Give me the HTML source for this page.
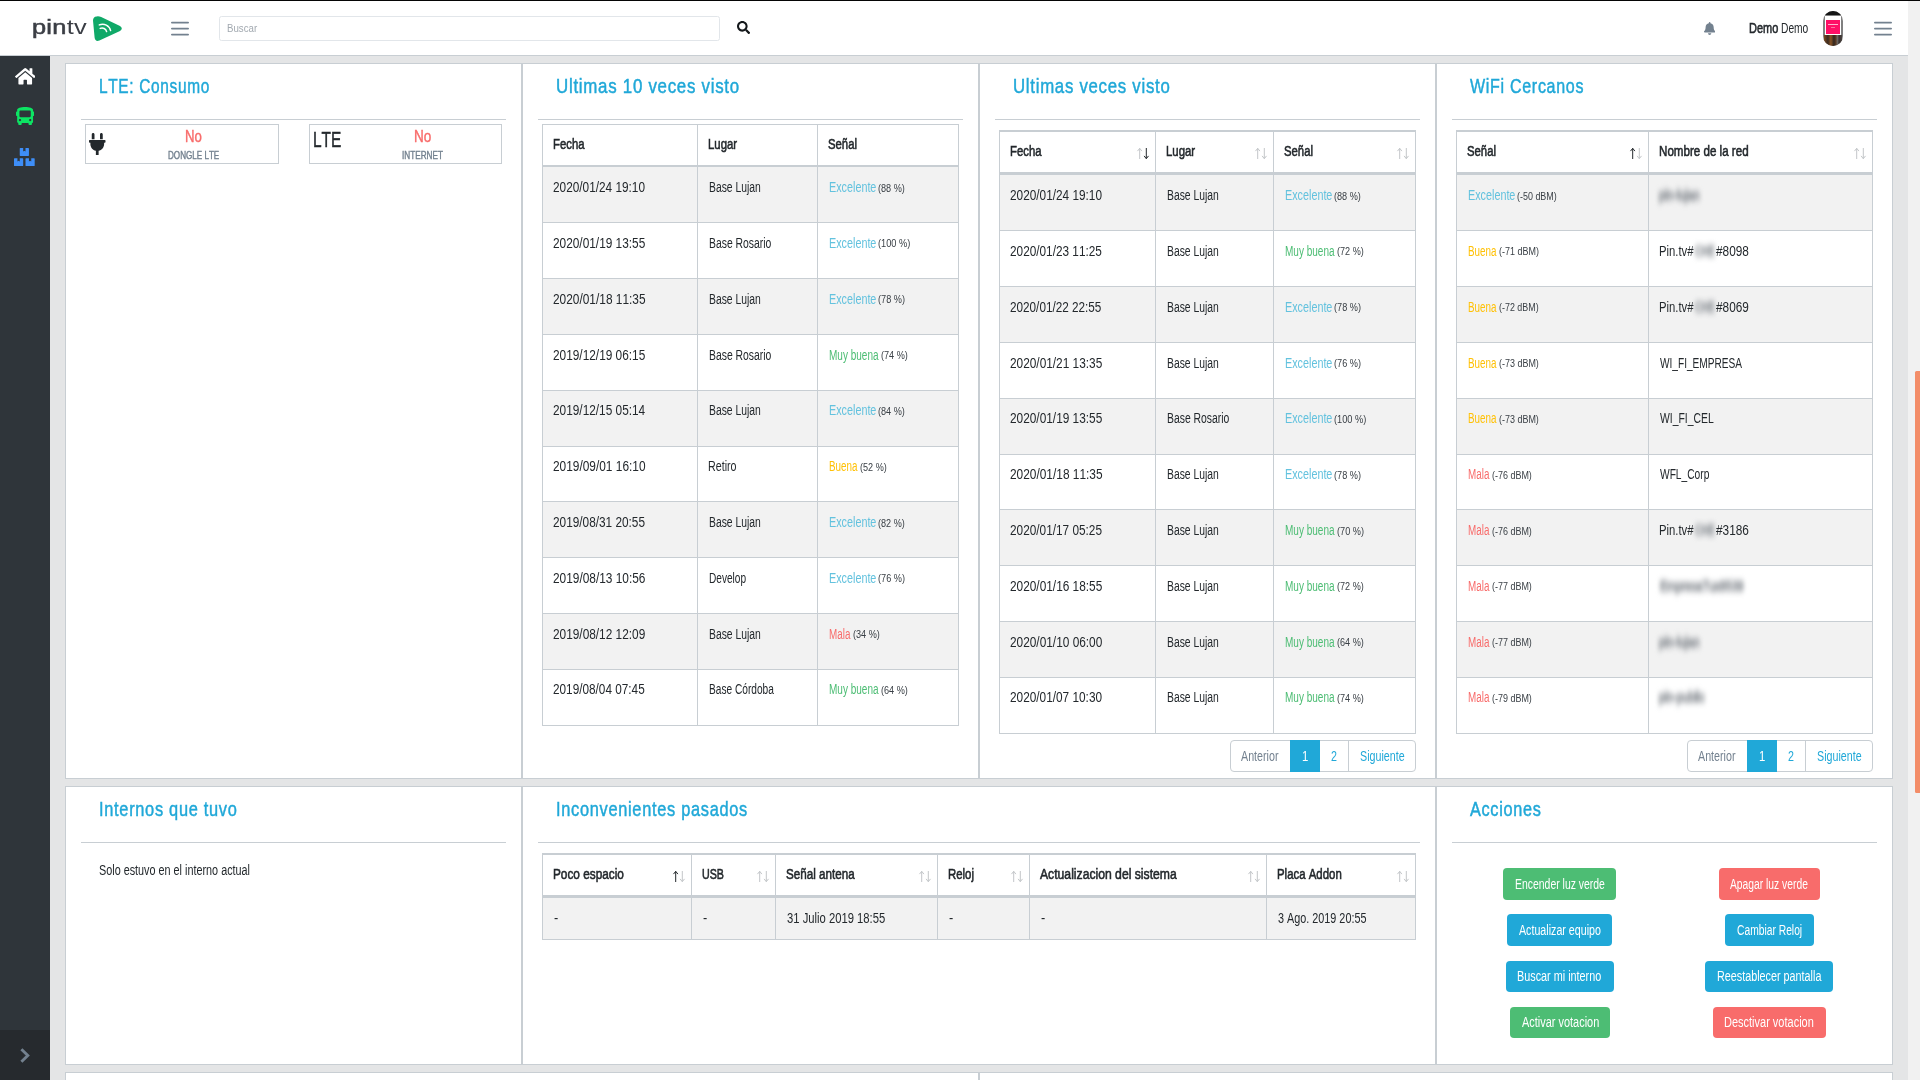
<!DOCTYPE html>
<html lang="es"><head><meta charset="utf-8"><title>pintv</title>
<style>
html,body{margin:0;padding:0}
body{width:1920px;height:1080px;overflow:hidden;background:#e4e5e6;position:relative;
font-family:"Liberation Sans",sans-serif;color:#23282c;font-kerning:none;-webkit-font-smoothing:antialiased}
.r{position:absolute;display:block}
.t{position:absolute;white-space:nowrap;transform-origin:0 0;font-weight:400;display:block}
.b{font-weight:700}
.fb{-webkit-text-stroke:.55px #23282c}
.h{color:#20a8d8;-webkit-text-stroke:.5px #20a8d8}
.ph{color:#a2a9b0}
.dg{color:#f86c6b}.ok{color:#4dbd74}.wa{color:#ffc107}.in{color:#63c2de}.mu{color:#73818f}.pr{color:#20a8d8}.wh{color:#fff}
.sm{color:#3a4046}
.s4{-webkit-text-stroke:.4px currentColor}
.bl{filter:blur(3px);color:#858a90;-webkit-text-stroke:1px #858a90}
.logo{font-size:20.4px;line-height:26px;color:#3b3e45;letter-spacing:.2px}
.logo b{font-weight:400;-webkit-text-stroke:.55px #3b3e45}
.av{border-radius:10px;overflow:hidden;background:#808080}
.av i{position:absolute;display:block}
.btn{border-radius:4px}
</style></head>
<body>
<div class="r" style="left:0px;top:0px;width:1920px;height:1px;background:#050505;"></div>
<div class="r" style="left:0px;top:1px;width:1908px;height:54px;background:#fff;"></div>
<div class="r" style="left:0px;top:55px;width:1908px;height:1px;background:#c8ced3;"></div>
<div class="r" style="left:1908px;top:1px;width:12px;height:1079px;background:#f1f1f1;"></div>
<div class="r" style="left:1915px;top:371px;width:5px;height:422px;background:#f38d68;border-radius:1.5px 0 0 1.5px"></div>
<div class="r" style="left:0px;top:56px;width:50px;height:1024px;background:#2f353a;"></div>
<div class="r" style="left:0px;top:1030px;width:50px;height:50px;background:#262a2e;"></div>
<svg class="r" style="left:19px;top:1047px" width="12" height="17" viewBox="0 0 12 17"><path d="M2.4 2.2l6.4 6.3-6.4 6.3" fill="none" stroke="#73818f" stroke-width="2.9" stroke-linejoin="miter"/></svg>
<span class="t logo" style="left:32px;top:14.2px;transform:scaleX(1.245)"><b>pin</b>tv</span>
<svg class="r" style="left:92px;top:15px" width="32" height="28" viewBox="92 15 32 28"><path fill="#0fa968" d="M96.6 16.4Q93 16.6 93 20.6L94.6 37.6Q95.2 42 99.4 40.6L120 30.9Q123.6 28.4 120 25.9L101.2 17Q98.8 16 96.6 16.4Z"/><path fill="none" stroke="#fff" stroke-width="1.5" stroke-linecap="round" d="M99.3 24.9A8.2 8.2 0 0 1 110.6 30.6M100.2 28.4A4.6 4.6 0 0 1 106.6 31.6"/></svg>
<svg class="r" style="left:170px;top:20.9px" width="20" height="16" viewBox="0 0 20 16"><path stroke="#73818f" stroke-width="1.8" stroke-linecap="round" fill="none" d="M1.9 1.6h16.2M1.9 7.6h16.2M1.9 13.6h16.2"/></svg>
<svg class="r" style="left:1873px;top:20.9px" width="20" height="16" viewBox="0 0 20 16"><path stroke="#73818f" stroke-width="1.8" stroke-linecap="round" fill="none" d="M1.9 1.6h16.2M1.9 7.6h16.2M1.9 13.6h16.2"/></svg>
<div class="r" style="left:219px;top:16px;width:501px;height:25px;border:1px solid #e2e6ea;border-radius:2.5px;background:#fff;box-sizing:border-box"></div>
<span class="t ph" style="left:226.91px;top:23px;font-size:11px;line-height:11px;transform:scaleX(0.8808);">Buscar</span>
<svg class="r" style="left:737px;top:20.9px" width="13.1" height="13.1" viewBox="0 0 512 512" preserveAspectRatio="none"><path fill="#14181b" d="M505 442.7L405.3 343c-4.5-4.5-10.6-7-17-7H372c27.6-35.3 44-79.7 44-128C416 93.1 322.9 0 208 0S0 93.1 0 208s93.1 208 208 208c48.3 0 92.7-16.4 128-44v16.3c0 6.4 2.5 12.5 7 17l99.7 99.7c9.4 9.4 24.6 9.4 33.9 0l28.3-28.3c9.4-9.4 9.4-24.6.1-34zM208 336c-70.7 0-128-57.2-128-128 0-70.7 57.2-128 128-128 70.7 0 128 57.2 128 128 0 70.7-57.2 128-128 128z"/></svg>
<svg class="r" style="left:1703.8px;top:21.9px" width="11.29" height="12.9" viewBox="0 0 448 512" preserveAspectRatio="none"><path fill="#73818f" d="M224 512c35.32 0 63.97-28.65 63.97-64H160.03c0 35.35 28.65 64 63.97 64zm215.39-149.71c-19.32-20.76-55.47-51.99-55.47-154.29 0-77.7-54.48-139.9-127.94-155.16V32c0-17.67-14.32-32-31.98-32s-31.98 14.33-31.98 32v20.84C118.56 68.1 64.08 130.3 64.08 208c0 102.3-36.15 133.53-55.47 154.29-6 6.45-8.66 14.16-8.61 21.71.11 16.4 12.98 32 32.1 32h383.8c19.12 0 32-15.6 32.1-32 .05-7.55-2.61-15.27-8.61-21.71z"/></svg>
<span class="t fb" style="left:1748.5px;top:21px;font-size:14px;line-height:14px;transform:scaleX(0.7835);">Demo</span>
<span class="t" style="left:1780.66px;top:21px;font-size:14px;line-height:14px;transform:scaleX(0.7302);">Demo</span>
<div class="r av" style="left:1823px;top:10.6px;width:20px;height:35.6px"><i style="left:0;top:0;width:20px;height:4.2px;background:#161616"></i><i style="left:1.9px;top:5.4px;width:16.2px;height:19.4px;background:#fff"></i><i style="left:3px;top:9px;width:14px;height:14px;background:#ff0f66"></i><i style="left:5.2px;top:13.4px;width:9.4px;height:1.3px;background:#ffb3cd"></i><i style="left:7.5px;top:16.2px;width:4.5px;height:1px;background:#ff6f9f"></i><i style="left:1.2px;top:24.8px;width:17.6px;height:11px;background:linear-gradient(90deg,#7a4a22 0,#3a2a20 22%,#8a5424 38%,#30261f 55%,#5b3a22 66%,#6e6a66 74%,#3a3230 84%,#4a4440 100%)"></i></div>
<svg class="r" style="left:14.8px;top:66.6px" width="20.5" height="18.6" viewBox="0 0 576 512" preserveAspectRatio="none"><path fill="#fff" d="M280.37 148.26L96 300.11V464a16 16 0 0 0 16 16l112.06-.29a16 16 0 0 0 15.92-16V368a16 16 0 0 1 16-16h64a16 16 0 0 1 16 16v95.64a16 16 0 0 0 16 16.05L464 480a16 16 0 0 0 16-16V300L295.67 148.26a12.19 12.19 0 0 0-15.3 0zM571.6 251.47L488 182.56V44.05a12 12 0 0 0-12-12h-56a12 12 0 0 0-12 12v72.61L318.47 43a48 48 0 0 0-61 0L4.34 251.47a12 12 0 0 0-1.6 16.9l25.5 31A12 12 0 0 0 45.15 301l235.22-193.74a12.19 12.19 0 0 1 15.3 0L530.9 301a12 12 0 0 0 16.9-1.6l25.5-31a12 12 0 0 0-1.7-16.93z"/></svg>
<svg class="r" style="left:15.9px;top:107px" width="18.2" height="18.2" viewBox="0 0 512 512" preserveAspectRatio="none"><path fill="#0de463" d="M488 128h-8V80c0-44.8-99.2-80-224-80S32 35.2 32 80v48h-8c-13.25 0-24 10.74-24 24v80c0 13.25 10.75 24 24 24h8v160c0 17.67 14.33 32 32 32v32c0 17.67 14.33 32 32 32h32c17.67 0 32-14.33 32-32v-32h192v32c0 17.67 14.33 32 32 32h32c17.67 0 32-14.33 32-32v-32h6.4c16 0 25.6-12.8 25.6-25.6V256h8c13.25 0 24-10.75 24-24v-80c0-13.26-10.75-24-24-24zM112 400c-17.67 0-32-14.33-32-32s14.33-32 32-32 32 14.33 32 32-14.33 32-32 32zm16-112c-17.67 0-32-14.33-32-32V128c0-17.67 14.33-32 32-32h256c17.67 0 32 14.33 32 32v128c0 17.67-14.33 32-32 32H128zm272 112c-17.67 0-32-14.33-32-32s14.33-32 32-32 32 14.33 32 32-14.33 32-32 32z"/></svg>
<svg class="r" style="left:14.4px;top:148px" width="20.7" height="18" viewBox="0 0 576 512" preserveAspectRatio="none"><path fill="#3e8ef7" d="M560 288h-80v96l-32-21.3-32 21.3v-96h-80c-8.8 0-16 7.2-16 16v192c0 8.8 7.2 16 16 16h224c8.8 0 16-7.2 16-16V304c0-8.8-7.2-16-16-16zm-384-64h224c8.8 0 16-7.2 16-16V16c0-8.8-7.2-16-16-16h-80v96l-32-21.3L256 96V0h-80c-8.8 0-16 7.2-16 16v192c0 8.8 7.2 16 16 16zm64 64h-80v96l-32-21.3L96 384v-96H16c-8.8 0-16 7.2-16 16v192c0 8.8 7.2 16 16 16h224c8.8 0 16-7.2 16-16V304c0-8.8-7.2-16-16-16z"/></svg>
<div class="r" style="left:65px;top:63px;width:457px;height:716px;background:#fff;border:1px solid #c8ced3;box-sizing:border-box"></div>
<div class="r" style="left:522px;top:63px;width:457px;height:716px;background:#fff;border:1px solid #c8ced3;box-sizing:border-box"></div>
<div class="r" style="left:979px;top:63px;width:457px;height:716px;background:#fff;border:1px solid #c8ced3;box-sizing:border-box"></div>
<div class="r" style="left:1436px;top:63px;width:457px;height:716px;background:#fff;border:1px solid #c8ced3;box-sizing:border-box"></div>
<div class="r" style="left:65px;top:786px;width:457px;height:279px;background:#fff;border:1px solid #c8ced3;box-sizing:border-box"></div>
<div class="r" style="left:522px;top:786px;width:914px;height:279px;background:#fff;border:1px solid #c8ced3;box-sizing:border-box"></div>
<div class="r" style="left:1436px;top:786px;width:457px;height:279px;background:#fff;border:1px solid #c8ced3;box-sizing:border-box"></div>
<div class="r" style="left:65px;top:1072px;width:914px;height:30px;background:#fff;border:1px solid #c8ced3;box-sizing:border-box"></div>
<div class="r" style="left:979px;top:1072px;width:914px;height:30px;background:#fff;border:1px solid #c8ced3;box-sizing:border-box"></div>
<span class="t h" style="left:99.1px;top:75px;font-size:21px;line-height:21px;transform:scaleX(0.7351);letter-spacing:0.9px;">LTE: Consumo</span>
<div class="r" style="left:81px;top:119px;width:425px;height:1px;background:#c8ced3;"></div>
<span class="t h" style="left:556.06px;top:75px;font-size:21px;line-height:21px;transform:scaleX(0.804);letter-spacing:0.9px;">Ultimas 10 veces visto</span>
<div class="r" style="left:538px;top:119px;width:425px;height:1px;background:#c8ced3;"></div>
<span class="t h" style="left:1013.07px;top:75px;font-size:21px;line-height:21px;transform:scaleX(0.8);letter-spacing:0.9px;">Ultimas veces visto</span>
<div class="r" style="left:995px;top:119px;width:425px;height:1px;background:#c8ced3;"></div>
<span class="t h" style="left:1470.25px;top:75px;font-size:21px;line-height:21px;transform:scaleX(0.7641);letter-spacing:0.9px;">WiFi Cercanos</span>
<div class="r" style="left:1452px;top:119px;width:425px;height:1px;background:#c8ced3;"></div>
<span class="t h" style="left:99.07px;top:798px;font-size:21px;line-height:21px;transform:scaleX(0.7804);letter-spacing:0.9px;">Internos que tuvo</span>
<div class="r" style="left:81px;top:842px;width:425px;height:1px;background:#c8ced3;"></div>
<span class="t h" style="left:556.07px;top:798px;font-size:21px;line-height:21px;transform:scaleX(0.7792);letter-spacing:0.9px;">Inconvenientes pasados</span>
<div class="r" style="left:538px;top:842px;width:882px;height:1px;background:#c8ced3;"></div>
<span class="t h" style="left:1470.07px;top:798px;font-size:21px;line-height:21px;transform:scaleX(0.7737);letter-spacing:0.9px;">Acciones</span>
<div class="r" style="left:1452px;top:842px;width:425px;height:1px;background:#c8ced3;"></div>
<div class="r" style="left:85px;top:124px;width:194px;height:40px;border:1px solid #c8ced3;box-sizing:border-box"></div>
<div class="r" style="left:309px;top:124px;width:193px;height:40px;border:1px solid #c8ced3;box-sizing:border-box"></div>
<svg class="r" style="left:89.1px;top:133px" width="16.5" height="22" viewBox="0 0 384 512" preserveAspectRatio="none"><path fill="#23282c" d="M256 144V32c0-17.673 14.327-32 32-32s32 14.327 32 32v112h-64zm112 16H16c-8.837 0-16 7.163-16 16v32c0 8.837 7.163 16 16 16h16v32c0 77.406 54.969 141.971 128 156.796V512h64v-99.204c73.031-14.825 128-79.39 128-156.796v-32h16c8.837 0 16-7.163 16-16v-32c0-8.837-7.163-16-16-16zm-240-16V32c0-17.673-14.327-32-32-32S64 14.327 64 32v112h64z"/></svg>
<span class="t dg s4" style="left:184.72px;top:129px;font-size:16px;line-height:16px;transform:scaleX(0.823);">No</span>
<span class="t mu s4" style="left:167.64px;top:150px;font-size:10.5px;line-height:10px;transform:scaleX(0.7699);">DONGLE LTE</span>
<span class="t s4" style="left:312.83px;top:129px;font-size:21.5px;line-height:22px;transform:scaleX(0.7185);">LTE</span>
<span class="t dg s4" style="left:414.09px;top:129px;font-size:16px;line-height:16px;transform:scaleX(0.8447);">No</span>
<span class="t mu s4" style="left:402.24px;top:150px;font-size:10.5px;line-height:10px;transform:scaleX(0.7799);">INTERNET</span>
<span class="t" style="left:99.01px;top:863px;font-size:14px;line-height:14px;transform:scaleX(0.773);">Solo estuvo en el interno actual</span>
<div class="r" style="left:542px;top:167px;width:417px;height:55px;background:#f2f2f2;"></div>
<div class="r" style="left:542px;top:278px;width:417px;height:56px;background:#f2f2f2;"></div>
<div class="r" style="left:542px;top:390px;width:417px;height:56px;background:#f2f2f2;"></div>
<div class="r" style="left:542px;top:501px;width:417px;height:56px;background:#f2f2f2;"></div>
<div class="r" style="left:542px;top:613px;width:417px;height:56px;background:#f2f2f2;"></div>
<div class="r" style="left:542px;top:124px;width:417px;height:1px;background:#c8ced3;"></div>
<div class="r" style="left:542px;top:165px;width:417px;height:2px;background:#c8ced3;"></div>
<div class="r" style="left:542px;top:222px;width:417px;height:1px;background:#c8ced3;"></div>
<div class="r" style="left:542px;top:278px;width:417px;height:1px;background:#c8ced3;"></div>
<div class="r" style="left:542px;top:334px;width:417px;height:1px;background:#c8ced3;"></div>
<div class="r" style="left:542px;top:390px;width:417px;height:1px;background:#c8ced3;"></div>
<div class="r" style="left:542px;top:446px;width:417px;height:1px;background:#c8ced3;"></div>
<div class="r" style="left:542px;top:501px;width:417px;height:1px;background:#c8ced3;"></div>
<div class="r" style="left:542px;top:557px;width:417px;height:1px;background:#c8ced3;"></div>
<div class="r" style="left:542px;top:613px;width:417px;height:1px;background:#c8ced3;"></div>
<div class="r" style="left:542px;top:669px;width:417px;height:1px;background:#c8ced3;"></div>
<div class="r" style="left:542px;top:725px;width:417px;height:1px;background:#c8ced3;"></div>
<div class="r" style="left:542px;top:124px;width:1px;height:602px;background:#c8ced3;"></div>
<div class="r" style="left:697px;top:124px;width:1px;height:602px;background:#c8ced3;"></div>
<div class="r" style="left:817px;top:124px;width:1px;height:602px;background:#c8ced3;"></div>
<div class="r" style="left:958px;top:124px;width:1px;height:602px;background:#c8ced3;"></div>
<span class="t fb" style="left:553.19px;top:137px;font-size:14px;line-height:14px;transform:scaleX(0.8115);">Fecha</span>
<span class="t fb" style="left:708.04px;top:137px;font-size:14px;line-height:14px;transform:scaleX(0.8121);">Lugar</span>
<span class="t fb" style="left:828.33px;top:137px;font-size:14px;line-height:14px;transform:scaleX(0.809);">Señal</span>
<span class="t" style="left:553.27px;top:180px;font-size:14px;line-height:14px;transform:scaleX(0.844);">2020/01/24 19:10</span>
<span class="t" style="left:708.57px;top:180px;font-size:14px;line-height:14px;transform:scaleX(0.74);">Base Lujan</span>
<span class="t in" style="left:828.54px;top:180px;font-size:14px;line-height:14px;transform:scaleX(0.7705);">Excelente</span>
<span class="t sm" style="left:878.37px;top:183px;font-size:11.2px;line-height:11px;transform:scaleX(0.8152);">(88 %)</span>
<span class="t" style="left:553.26px;top:236px;font-size:14px;line-height:14px;transform:scaleX(0.8467);">2020/01/19 13:55</span>
<span class="t" style="left:708.57px;top:236px;font-size:14px;line-height:14px;transform:scaleX(0.7421);">Base Rosario</span>
<span class="t in" style="left:828.54px;top:236px;font-size:14px;line-height:14px;transform:scaleX(0.7705);">Excelente</span>
<span class="t sm" style="left:878.36px;top:238px;font-size:11.2px;line-height:11px;transform:scaleX(0.8267);">(100 %)</span>
<span class="t" style="left:553.26px;top:292px;font-size:14px;line-height:14px;transform:scaleX(0.849);">2020/01/18 11:35</span>
<span class="t" style="left:708.57px;top:292px;font-size:14px;line-height:14px;transform:scaleX(0.74);">Base Lujan</span>
<span class="t in" style="left:828.54px;top:292px;font-size:14px;line-height:14px;transform:scaleX(0.7705);">Excelente</span>
<span class="t sm" style="left:878.36px;top:294px;font-size:11.2px;line-height:11px;transform:scaleX(0.8185);">(78 %)</span>
<span class="t" style="left:553.26px;top:348px;font-size:14px;line-height:14px;transform:scaleX(0.8466);">2019/12/19 06:15</span>
<span class="t" style="left:708.57px;top:348px;font-size:14px;line-height:14px;transform:scaleX(0.7421);">Base Rosario</span>
<span class="t ok" style="left:828.6px;top:348px;font-size:14px;line-height:14px;transform:scaleX(0.7159);">Muy buena</span>
<span class="t sm" style="left:881.12px;top:350px;font-size:11.2px;line-height:11px;transform:scaleX(0.8151);">(74 %)</span>
<span class="t" style="left:553.26px;top:403px;font-size:14px;line-height:14px;transform:scaleX(0.846);">2019/12/15 05:14</span>
<span class="t" style="left:708.57px;top:403px;font-size:14px;line-height:14px;transform:scaleX(0.74);">Base Lujan</span>
<span class="t in" style="left:828.54px;top:403px;font-size:14px;line-height:14px;transform:scaleX(0.7705);">Excelente</span>
<span class="t sm" style="left:878.37px;top:406px;font-size:11.2px;line-height:11px;transform:scaleX(0.8151);">(84 %)</span>
<span class="t" style="left:553.26px;top:459px;font-size:14px;line-height:14px;transform:scaleX(0.8487);">2019/09/01 16:10</span>
<span class="t" style="left:708.4px;top:459px;font-size:14px;line-height:14px;transform:scaleX(0.7641);">Retiro</span>
<span class="t wa" style="left:828.61px;top:459px;font-size:14px;line-height:14px;transform:scaleX(0.7029);">Buena</span>
<span class="t sm" style="left:860.01px;top:462px;font-size:11.2px;line-height:11px;transform:scaleX(0.8119);">(52 %)</span>
<span class="t" style="left:553.27px;top:515px;font-size:14px;line-height:14px;transform:scaleX(0.8441);">2019/08/31 20:55</span>
<span class="t" style="left:708.57px;top:515px;font-size:14px;line-height:14px;transform:scaleX(0.74);">Base Lujan</span>
<span class="t in" style="left:828.54px;top:515px;font-size:14px;line-height:14px;transform:scaleX(0.7705);">Excelente</span>
<span class="t sm" style="left:878.37px;top:518px;font-size:11.2px;line-height:11px;transform:scaleX(0.8119);">(82 %)</span>
<span class="t" style="left:553.26px;top:571px;font-size:14px;line-height:14px;transform:scaleX(0.8483);">2019/08/13 10:56</span>
<span class="t" style="left:708.59px;top:571px;font-size:14px;line-height:14px;transform:scaleX(0.722);">Develop</span>
<span class="t in" style="left:828.54px;top:571px;font-size:14px;line-height:14px;transform:scaleX(0.7705);">Excelente</span>
<span class="t sm" style="left:878.36px;top:573px;font-size:11.2px;line-height:11px;transform:scaleX(0.8185);">(76 %)</span>
<span class="t" style="left:553.26px;top:627px;font-size:14px;line-height:14px;transform:scaleX(0.8463);">2019/08/12 12:09</span>
<span class="t" style="left:708.57px;top:627px;font-size:14px;line-height:14px;transform:scaleX(0.74);">Base Lujan</span>
<span class="t dg" style="left:828.61px;top:627px;font-size:14px;line-height:14px;transform:scaleX(0.7041);">Mala</span>
<span class="t sm" style="left:852.91px;top:629px;font-size:11.2px;line-height:11px;transform:scaleX(0.8151);">(34 %)</span>
<span class="t" style="left:553.27px;top:682px;font-size:14px;line-height:14px;transform:scaleX(0.8413);">2019/08/04 07:45</span>
<span class="t" style="left:708.59px;top:682px;font-size:14px;line-height:14px;transform:scaleX(0.7245);">Base Córdoba</span>
<span class="t ok" style="left:828.6px;top:682px;font-size:14px;line-height:14px;transform:scaleX(0.7159);">Muy buena</span>
<span class="t sm" style="left:881.12px;top:685px;font-size:11.2px;line-height:11px;transform:scaleX(0.8151);">(64 %)</span>
<div class="r" style="left:999px;top:175px;width:417px;height:55px;background:#f2f2f2;"></div>
<div class="r" style="left:999px;top:286px;width:417px;height:56px;background:#f2f2f2;"></div>
<div class="r" style="left:999px;top:398px;width:417px;height:56px;background:#f2f2f2;"></div>
<div class="r" style="left:999px;top:509px;width:417px;height:56px;background:#f2f2f2;"></div>
<div class="r" style="left:999px;top:621px;width:417px;height:56px;background:#f2f2f2;"></div>
<div class="r" style="left:999px;top:130px;width:417px;height:2px;background:#c8ced3;"></div>
<div class="r" style="left:999px;top:172px;width:417px;height:3px;background:#c8ced3;"></div>
<div class="r" style="left:999px;top:230px;width:417px;height:1px;background:#c8ced3;"></div>
<div class="r" style="left:999px;top:286px;width:417px;height:1px;background:#c8ced3;"></div>
<div class="r" style="left:999px;top:342px;width:417px;height:1px;background:#c8ced3;"></div>
<div class="r" style="left:999px;top:398px;width:417px;height:1px;background:#c8ced3;"></div>
<div class="r" style="left:999px;top:454px;width:417px;height:1px;background:#c8ced3;"></div>
<div class="r" style="left:999px;top:509px;width:417px;height:1px;background:#c8ced3;"></div>
<div class="r" style="left:999px;top:565px;width:417px;height:1px;background:#c8ced3;"></div>
<div class="r" style="left:999px;top:621px;width:417px;height:1px;background:#c8ced3;"></div>
<div class="r" style="left:999px;top:677px;width:417px;height:1px;background:#c8ced3;"></div>
<div class="r" style="left:999px;top:733px;width:417px;height:1px;background:#c8ced3;"></div>
<div class="r" style="left:999px;top:130px;width:1px;height:604px;background:#c8ced3;"></div>
<div class="r" style="left:1155px;top:130px;width:1px;height:604px;background:#c8ced3;"></div>
<div class="r" style="left:1273px;top:130px;width:1px;height:604px;background:#c8ced3;"></div>
<div class="r" style="left:1415px;top:130px;width:1px;height:604px;background:#c8ced3;"></div>
<span class="t fb" style="left:1010.19px;top:144px;font-size:14px;line-height:14px;transform:scaleX(0.8115);">Fecha</span>
<span class="t fb" style="left:1166.04px;top:144px;font-size:14px;line-height:14px;transform:scaleX(0.8121);">Lugar</span>
<span class="t fb" style="left:1284.33px;top:144px;font-size:14px;line-height:14px;transform:scaleX(0.809);">Señal</span>
<svg class="r" style="left:1136px;top:147px" width="14" height="13" viewBox="0 0 14 13"><path fill="none" stroke="#c3c6c9" stroke-width="1" d="M3.7 12V1.4M1.5 4.1L3.7 1.3L5.9 4.1"/><path fill="none" stroke="#23282c" stroke-width="1" d="M10.3 1v10.6M8.1 8.9L10.3 11.7L12.5 8.9"/></svg>
<svg class="r" style="left:1254px;top:147px" width="14" height="13" viewBox="0 0 14 13"><path fill="none" stroke="#c3c6c9" stroke-width="1" d="M3.7 12V1.4M1.5 4.1L3.7 1.3L5.9 4.1"/><path fill="none" stroke="#c3c6c9" stroke-width="1" d="M10.3 1v10.6M8.1 8.9L10.3 11.7L12.5 8.9"/></svg>
<svg class="r" style="left:1396px;top:147px" width="14" height="13" viewBox="0 0 14 13"><path fill="none" stroke="#c3c6c9" stroke-width="1" d="M3.7 12V1.4M1.5 4.1L3.7 1.3L5.9 4.1"/><path fill="none" stroke="#c3c6c9" stroke-width="1" d="M10.3 1v10.6M8.1 8.9L10.3 11.7L12.5 8.9"/></svg>
<span class="t" style="left:1010.27px;top:188px;font-size:14px;line-height:14px;transform:scaleX(0.844);">2020/01/24 19:10</span>
<span class="t" style="left:1166.57px;top:188px;font-size:14px;line-height:14px;transform:scaleX(0.74);">Base Lujan</span>
<span class="t in" style="left:1284.54px;top:188px;font-size:14px;line-height:14px;transform:scaleX(0.7705);">Excelente</span>
<span class="t sm" style="left:1334.37px;top:191px;font-size:11.2px;line-height:11px;transform:scaleX(0.8152);">(88 %)</span>
<span class="t" style="left:1010.27px;top:244px;font-size:14px;line-height:14px;transform:scaleX(0.8429);">2020/01/23 11:25</span>
<span class="t" style="left:1166.57px;top:244px;font-size:14px;line-height:14px;transform:scaleX(0.74);">Base Lujan</span>
<span class="t ok" style="left:1284.6px;top:244px;font-size:14px;line-height:14px;transform:scaleX(0.7159);">Muy buena</span>
<span class="t sm" style="left:1337.12px;top:246px;font-size:11.2px;line-height:11px;transform:scaleX(0.8119);">(72 %)</span>
<span class="t" style="left:1010.27px;top:300px;font-size:14px;line-height:14px;transform:scaleX(0.8385);">2020/01/22 22:55</span>
<span class="t" style="left:1166.57px;top:300px;font-size:14px;line-height:14px;transform:scaleX(0.74);">Base Lujan</span>
<span class="t in" style="left:1284.54px;top:300px;font-size:14px;line-height:14px;transform:scaleX(0.7705);">Excelente</span>
<span class="t sm" style="left:1334.36px;top:302px;font-size:11.2px;line-height:11px;transform:scaleX(0.8185);">(78 %)</span>
<span class="t" style="left:1010.26px;top:356px;font-size:14px;line-height:14px;transform:scaleX(0.8463);">2020/01/21 13:35</span>
<span class="t" style="left:1166.57px;top:356px;font-size:14px;line-height:14px;transform:scaleX(0.74);">Base Lujan</span>
<span class="t in" style="left:1284.54px;top:356px;font-size:14px;line-height:14px;transform:scaleX(0.7705);">Excelente</span>
<span class="t sm" style="left:1334.36px;top:358px;font-size:11.2px;line-height:11px;transform:scaleX(0.8185);">(76 %)</span>
<span class="t" style="left:1010.26px;top:411px;font-size:14px;line-height:14px;transform:scaleX(0.8467);">2020/01/19 13:55</span>
<span class="t" style="left:1166.57px;top:411px;font-size:14px;line-height:14px;transform:scaleX(0.7421);">Base Rosario</span>
<span class="t in" style="left:1284.54px;top:411px;font-size:14px;line-height:14px;transform:scaleX(0.7705);">Excelente</span>
<span class="t sm" style="left:1334.36px;top:414px;font-size:11.2px;line-height:11px;transform:scaleX(0.8267);">(100 %)</span>
<span class="t" style="left:1010.26px;top:467px;font-size:14px;line-height:14px;transform:scaleX(0.849);">2020/01/18 11:35</span>
<span class="t" style="left:1166.57px;top:467px;font-size:14px;line-height:14px;transform:scaleX(0.74);">Base Lujan</span>
<span class="t in" style="left:1284.54px;top:467px;font-size:14px;line-height:14px;transform:scaleX(0.7705);">Excelente</span>
<span class="t sm" style="left:1334.36px;top:470px;font-size:11.2px;line-height:11px;transform:scaleX(0.8185);">(78 %)</span>
<span class="t" style="left:1010.27px;top:523px;font-size:14px;line-height:14px;transform:scaleX(0.8438);">2020/01/17 05:25</span>
<span class="t" style="left:1166.57px;top:523px;font-size:14px;line-height:14px;transform:scaleX(0.74);">Base Lujan</span>
<span class="t ok" style="left:1284.6px;top:523px;font-size:14px;line-height:14px;transform:scaleX(0.7159);">Muy buena</span>
<span class="t sm" style="left:1337.12px;top:526px;font-size:11.2px;line-height:11px;transform:scaleX(0.8185);">(70 %)</span>
<span class="t" style="left:1010.26px;top:579px;font-size:14px;line-height:14px;transform:scaleX(0.8467);">2020/01/16 18:55</span>
<span class="t" style="left:1166.57px;top:579px;font-size:14px;line-height:14px;transform:scaleX(0.74);">Base Lujan</span>
<span class="t ok" style="left:1284.6px;top:579px;font-size:14px;line-height:14px;transform:scaleX(0.7159);">Muy buena</span>
<span class="t sm" style="left:1337.12px;top:581px;font-size:11.2px;line-height:11px;transform:scaleX(0.8119);">(72 %)</span>
<span class="t" style="left:1010.26px;top:635px;font-size:14px;line-height:14px;transform:scaleX(0.8468);">2020/01/10 06:00</span>
<span class="t" style="left:1166.57px;top:635px;font-size:14px;line-height:14px;transform:scaleX(0.74);">Base Lujan</span>
<span class="t ok" style="left:1284.6px;top:635px;font-size:14px;line-height:14px;transform:scaleX(0.7159);">Muy buena</span>
<span class="t sm" style="left:1337.12px;top:637px;font-size:11.2px;line-height:11px;transform:scaleX(0.8151);">(64 %)</span>
<span class="t" style="left:1010.27px;top:690px;font-size:14px;line-height:14px;transform:scaleX(0.8444);">2020/01/07 10:30</span>
<span class="t" style="left:1166.57px;top:690px;font-size:14px;line-height:14px;transform:scaleX(0.74);">Base Lujan</span>
<span class="t ok" style="left:1284.6px;top:690px;font-size:14px;line-height:14px;transform:scaleX(0.7159);">Muy buena</span>
<span class="t sm" style="left:1337.12px;top:693px;font-size:11.2px;line-height:11px;transform:scaleX(0.8151);">(74 %)</span>
<div class="r" style="left:1456px;top:175px;width:417px;height:55px;background:#f2f2f2;"></div>
<div class="r" style="left:1456px;top:286px;width:417px;height:56px;background:#f2f2f2;"></div>
<div class="r" style="left:1456px;top:398px;width:417px;height:56px;background:#f2f2f2;"></div>
<div class="r" style="left:1456px;top:509px;width:417px;height:56px;background:#f2f2f2;"></div>
<div class="r" style="left:1456px;top:621px;width:417px;height:56px;background:#f2f2f2;"></div>
<div class="r" style="left:1456px;top:130px;width:417px;height:2px;background:#c8ced3;"></div>
<div class="r" style="left:1456px;top:172px;width:417px;height:3px;background:#c8ced3;"></div>
<div class="r" style="left:1456px;top:230px;width:417px;height:1px;background:#c8ced3;"></div>
<div class="r" style="left:1456px;top:286px;width:417px;height:1px;background:#c8ced3;"></div>
<div class="r" style="left:1456px;top:342px;width:417px;height:1px;background:#c8ced3;"></div>
<div class="r" style="left:1456px;top:398px;width:417px;height:1px;background:#c8ced3;"></div>
<div class="r" style="left:1456px;top:454px;width:417px;height:1px;background:#c8ced3;"></div>
<div class="r" style="left:1456px;top:509px;width:417px;height:1px;background:#c8ced3;"></div>
<div class="r" style="left:1456px;top:565px;width:417px;height:1px;background:#c8ced3;"></div>
<div class="r" style="left:1456px;top:621px;width:417px;height:1px;background:#c8ced3;"></div>
<div class="r" style="left:1456px;top:677px;width:417px;height:1px;background:#c8ced3;"></div>
<div class="r" style="left:1456px;top:733px;width:417px;height:1px;background:#c8ced3;"></div>
<div class="r" style="left:1456px;top:130px;width:1px;height:604px;background:#c8ced3;"></div>
<div class="r" style="left:1648px;top:130px;width:1px;height:604px;background:#c8ced3;"></div>
<div class="r" style="left:1872px;top:130px;width:1px;height:604px;background:#c8ced3;"></div>
<span class="t fb" style="left:1467.33px;top:144px;font-size:14px;line-height:14px;transform:scaleX(0.809);">Señal</span>
<span class="t fb" style="left:1659.17px;top:144px;font-size:14px;line-height:14px;transform:scaleX(0.8286);">Nombre de la red</span>
<svg class="r" style="left:1629px;top:147px" width="14" height="13" viewBox="0 0 14 13"><path fill="none" stroke="#23282c" stroke-width="1" d="M3.7 12V1.4M1.5 4.1L3.7 1.3L5.9 4.1"/><path fill="none" stroke="#c3c6c9" stroke-width="1" d="M10.3 1v10.6M8.1 8.9L10.3 11.7L12.5 8.9"/></svg>
<svg class="r" style="left:1853px;top:147px" width="14" height="13" viewBox="0 0 14 13"><path fill="none" stroke="#c3c6c9" stroke-width="1" d="M3.7 12V1.4M1.5 4.1L3.7 1.3L5.9 4.1"/><path fill="none" stroke="#c3c6c9" stroke-width="1" d="M10.3 1v10.6M8.1 8.9L10.3 11.7L12.5 8.9"/></svg>
<span class="t in" style="left:1467.54px;top:188px;font-size:14px;line-height:14px;transform:scaleX(0.7705);">Excelente</span>
<span class="t sm" style="left:1517.38px;top:191px;font-size:11.2px;line-height:11px;transform:scaleX(0.799);">(-50 dBM)</span>
<span class="t bl" style="left:1659.45px;top:188px;font-size:14px;line-height:14px;transform:scaleX(0.7671);">pin-lujan</span>
<span class="t wa" style="left:1467.61px;top:244px;font-size:14px;line-height:14px;transform:scaleX(0.7029);">Buena</span>
<span class="t sm" style="left:1499.01px;top:246px;font-size:11.2px;line-height:11px;transform:scaleX(0.8018);">(-71 dBM)</span>
<span class="t" style="left:1659.49px;top:244px;font-size:14px;line-height:14px;transform:scaleX(0.8066);">Pin.tv#</span>
<span class="t bl" style="left:1695.31px;top:244px;font-size:14px;line-height:14px;transform:scaleX(0.6618);">CHE</span>
<span class="t" style="left:1715.82px;top:244px;font-size:14px;line-height:14px;transform:scaleX(0.8446);">#8098</span>
<span class="t wa" style="left:1467.61px;top:300px;font-size:14px;line-height:14px;transform:scaleX(0.7029);">Buena</span>
<span class="t sm" style="left:1499.02px;top:302px;font-size:11.2px;line-height:11px;transform:scaleX(0.7968);">(-72 dBM)</span>
<span class="t" style="left:1659.49px;top:300px;font-size:14px;line-height:14px;transform:scaleX(0.8066);">Pin.tv#</span>
<span class="t bl" style="left:1695.31px;top:300px;font-size:14px;line-height:14px;transform:scaleX(0.6618);">CHE</span>
<span class="t" style="left:1715.82px;top:300px;font-size:14px;line-height:14px;transform:scaleX(0.8429);">#8069</span>
<span class="t wa" style="left:1467.61px;top:356px;font-size:14px;line-height:14px;transform:scaleX(0.7029);">Buena</span>
<span class="t sm" style="left:1499.01px;top:358px;font-size:11.2px;line-height:11px;transform:scaleX(0.8011);">(-73 dBM)</span>
<span class="t" style="left:1659.54px;top:356px;font-size:14px;line-height:14px;transform:scaleX(0.7229);">WI_FI_EMPRESA</span>
<span class="t wa" style="left:1467.61px;top:411px;font-size:14px;line-height:14px;transform:scaleX(0.7029);">Buena</span>
<span class="t sm" style="left:1499.01px;top:414px;font-size:11.2px;line-height:11px;transform:scaleX(0.8011);">(-73 dBM)</span>
<span class="t" style="left:1659.53px;top:411px;font-size:14px;line-height:14px;transform:scaleX(0.7436);">WI_FI_CEL</span>
<span class="t dg" style="left:1467.61px;top:467px;font-size:14px;line-height:14px;transform:scaleX(0.7041);">Mala</span>
<span class="t sm" style="left:1491.92px;top:470px;font-size:11.2px;line-height:11px;transform:scaleX(0.8011);">(-76 dBM)</span>
<span class="t" style="left:1659.54px;top:467px;font-size:14px;line-height:14px;transform:scaleX(0.7291);">WFL_Corp</span>
<span class="t dg" style="left:1467.61px;top:523px;font-size:14px;line-height:14px;transform:scaleX(0.7041);">Mala</span>
<span class="t sm" style="left:1491.92px;top:526px;font-size:11.2px;line-height:11px;transform:scaleX(0.8011);">(-76 dBM)</span>
<span class="t" style="left:1659.49px;top:523px;font-size:14px;line-height:14px;transform:scaleX(0.8066);">Pin.tv#</span>
<span class="t bl" style="left:1695.31px;top:523px;font-size:14px;line-height:14px;transform:scaleX(0.6618);">CHE</span>
<span class="t" style="left:1715.82px;top:523px;font-size:14px;line-height:14px;transform:scaleX(0.846);">#3186</span>
<span class="t dg" style="left:1467.61px;top:579px;font-size:14px;line-height:14px;transform:scaleX(0.7041);">Mala</span>
<span class="t sm" style="left:1491.92px;top:581px;font-size:11.2px;line-height:11px;transform:scaleX(0.8011);">(-77 dBM)</span>
<span class="t bl" style="left:1659.55px;top:579px;font-size:14px;line-height:14px;transform:scaleX(0.7573);">EmpresaTux8539</span>
<span class="t dg" style="left:1467.61px;top:635px;font-size:14px;line-height:14px;transform:scaleX(0.7041);">Mala</span>
<span class="t sm" style="left:1491.92px;top:637px;font-size:11.2px;line-height:11px;transform:scaleX(0.8011);">(-77 dBM)</span>
<span class="t bl" style="left:1659.45px;top:635px;font-size:14px;line-height:14px;transform:scaleX(0.7671);">pin-lujan</span>
<span class="t dg" style="left:1467.61px;top:690px;font-size:14px;line-height:14px;transform:scaleX(0.7041);">Mala</span>
<span class="t sm" style="left:1491.92px;top:693px;font-size:11.2px;line-height:11px;transform:scaleX(0.8011);">(-79 dBM)</span>
<span class="t bl" style="left:1659.45px;top:690px;font-size:14px;line-height:14px;transform:scaleX(0.7647);">pin-public</span>
<div class="r" style="left:542px;top:898px;width:874px;height:41px;background:#f2f2f2;"></div>
<div class="r" style="left:542px;top:853px;width:874px;height:2px;background:#c8ced3;"></div>
<div class="r" style="left:542px;top:895px;width:874px;height:3px;background:#c8ced3;"></div>
<div class="r" style="left:542px;top:939px;width:874px;height:1px;background:#c8ced3;"></div>
<div class="r" style="left:542px;top:853px;width:1px;height:87px;background:#c8ced3;"></div>
<div class="r" style="left:691px;top:853px;width:1px;height:87px;background:#c8ced3;"></div>
<div class="r" style="left:775px;top:853px;width:1px;height:87px;background:#c8ced3;"></div>
<div class="r" style="left:937px;top:853px;width:1px;height:87px;background:#c8ced3;"></div>
<div class="r" style="left:1029px;top:853px;width:1px;height:87px;background:#c8ced3;"></div>
<div class="r" style="left:1266px;top:853px;width:1px;height:87px;background:#c8ced3;"></div>
<div class="r" style="left:1415px;top:853px;width:1px;height:87px;background:#c8ced3;"></div>
<span class="t fb" style="left:553.15px;top:867px;font-size:14px;line-height:14px;transform:scaleX(0.843);">Poco espacio</span>
<svg class="r" style="left:672px;top:870px" width="14" height="13" viewBox="0 0 14 13"><path fill="none" stroke="#23282c" stroke-width="1" d="M3.7 12V1.4M1.5 4.1L3.7 1.3L5.9 4.1"/><path fill="none" stroke="#c3c6c9" stroke-width="1" d="M10.3 1v10.6M8.1 8.9L10.3 11.7L12.5 8.9"/></svg>
<span class="t" style="left:553.74px;top:911px;font-size:14px;line-height:14px;transform:scaleX(0.907);">-</span>
<span class="t fb" style="left:702.15px;top:867px;font-size:14px;line-height:14px;transform:scaleX(0.7632);">USB</span>
<svg class="r" style="left:756px;top:870px" width="14" height="13" viewBox="0 0 14 13"><path fill="none" stroke="#c3c6c9" stroke-width="1" d="M3.7 12V1.4M1.5 4.1L3.7 1.3L5.9 4.1"/><path fill="none" stroke="#c3c6c9" stroke-width="1" d="M10.3 1v10.6M8.1 8.9L10.3 11.7L12.5 8.9"/></svg>
<span class="t" style="left:702.74px;top:911px;font-size:14px;line-height:14px;transform:scaleX(0.907);">-</span>
<span class="t fb" style="left:786.31px;top:867px;font-size:14px;line-height:14px;transform:scaleX(0.8325);">Señal antena</span>
<svg class="r" style="left:918px;top:870px" width="14" height="13" viewBox="0 0 14 13"><path fill="none" stroke="#c3c6c9" stroke-width="1" d="M3.7 12V1.4M1.5 4.1L3.7 1.3L5.9 4.1"/><path fill="none" stroke="#c3c6c9" stroke-width="1" d="M10.3 1v10.6M8.1 8.9L10.3 11.7L12.5 8.9"/></svg>
<span class="t" style="left:786.85px;top:911px;font-size:14px;line-height:14px;transform:scaleX(0.8034);">31 Julio 2019 18:55</span>
<span class="t fb" style="left:948.04px;top:867px;font-size:14px;line-height:14px;transform:scaleX(0.8128);">Reloj</span>
<svg class="r" style="left:1010px;top:870px" width="14" height="13" viewBox="0 0 14 13"><path fill="none" stroke="#c3c6c9" stroke-width="1" d="M3.7 12V1.4M1.5 4.1L3.7 1.3L5.9 4.1"/><path fill="none" stroke="#c3c6c9" stroke-width="1" d="M10.3 1v10.6M8.1 8.9L10.3 11.7L12.5 8.9"/></svg>
<span class="t" style="left:948.74px;top:911px;font-size:14px;line-height:14px;transform:scaleX(0.907);">-</span>
<span class="t fb" style="left:1040.11px;top:867px;font-size:14px;line-height:14px;transform:scaleX(0.8697);">Actualizacion del sistema</span>
<svg class="r" style="left:1247px;top:870px" width="14" height="13" viewBox="0 0 14 13"><path fill="none" stroke="#c3c6c9" stroke-width="1" d="M3.7 12V1.4M1.5 4.1L3.7 1.3L5.9 4.1"/><path fill="none" stroke="#c3c6c9" stroke-width="1" d="M10.3 1v10.6M8.1 8.9L10.3 11.7L12.5 8.9"/></svg>
<span class="t" style="left:1040.74px;top:911px;font-size:14px;line-height:14px;transform:scaleX(0.907);">-</span>
<span class="t fb" style="left:1277.18px;top:867px;font-size:14px;line-height:14px;transform:scaleX(0.8153);">Placa Addon</span>
<svg class="r" style="left:1396px;top:870px" width="14" height="13" viewBox="0 0 14 13"><path fill="none" stroke="#c3c6c9" stroke-width="1" d="M3.7 12V1.4M1.5 4.1L3.7 1.3L5.9 4.1"/><path fill="none" stroke="#c3c6c9" stroke-width="1" d="M10.3 1v10.6M8.1 8.9L10.3 11.7L12.5 8.9"/></svg>
<span class="t" style="left:1277.87px;top:911px;font-size:14px;line-height:14px;transform:scaleX(0.7728);">3 Ago. 2019 20:55</span>
<div class="r" style="left:1230px;top:740px;width:186px;height:32px;background:#fff;border:1px solid #c8ced3;border-radius:4px;box-sizing:border-box"></div>
<div class="r" style="left:1290px;top:740px;width:30px;height:32px;background:#20a8d8;"></div>
<div class="r" style="left:1348px;top:740px;width:1px;height:32px;background:#c8ced3;"></div>
<span class="t mu" style="left:1241.33px;top:749px;font-size:14px;line-height:14px;transform:scaleX(0.7647);">Anterior</span>
<span class="t wh" style="left:1301.69px;top:749px;font-size:14px;line-height:14px;transform:scaleX(0.8098);">1</span>
<span class="t pr" style="left:1331.27px;top:749px;font-size:14px;line-height:14px;transform:scaleX(0.7646);">2</span>
<span class="t pr" style="left:1359.94px;top:749px;font-size:14px;line-height:14px;transform:scaleX(0.764);">Siguiente</span>
<div class="r" style="left:1687px;top:740px;width:186px;height:32px;background:#fff;border:1px solid #c8ced3;border-radius:4px;box-sizing:border-box"></div>
<div class="r" style="left:1747px;top:740px;width:30px;height:32px;background:#20a8d8;"></div>
<div class="r" style="left:1805px;top:740px;width:1px;height:32px;background:#c8ced3;"></div>
<span class="t mu" style="left:1698.33px;top:749px;font-size:14px;line-height:14px;transform:scaleX(0.7647);">Anterior</span>
<span class="t wh" style="left:1758.69px;top:749px;font-size:14px;line-height:14px;transform:scaleX(0.8098);">1</span>
<span class="t pr" style="left:1788.27px;top:749px;font-size:14px;line-height:14px;transform:scaleX(0.7646);">2</span>
<span class="t pr" style="left:1816.94px;top:749px;font-size:14px;line-height:14px;transform:scaleX(0.764);">Siguiente</span>
<div class="r" style="left:1503.3px;top:868px;width:113px;height:32px;background:#4dbd74;border-radius:4px"></div>
<span class="t wh" style="left:1514.65px;top:877px;font-size:14px;line-height:14px;transform:scaleX(0.7454);">Encender luz verde</span>
<div class="r" style="left:1718.7px;top:868px;width:101px;height:32px;background:#f86c6b;border-radius:4px"></div>
<span class="t wh" style="left:1730.48px;top:877px;font-size:14px;line-height:14px;transform:scaleX(0.7358);">Apagar luz verde</span>
<div class="r" style="left:1507.3px;top:914px;width:105px;height:32px;background:#20a8d8;border-radius:4px"></div>
<span class="t wh" style="left:1519.04px;top:923px;font-size:14px;line-height:14px;transform:scaleX(0.763);">Actualizar equipo</span>
<div class="r" style="left:1724.7px;top:914px;width:89px;height:32px;background:#20a8d8;border-radius:4px"></div>
<span class="t wh" style="left:1736.71px;top:923px;font-size:14px;line-height:14px;transform:scaleX(0.7346);">Cambiar Reloj</span>
<div class="r" style="left:1505.8px;top:961px;width:108px;height:31px;background:#20a8d8;border-radius:4px"></div>
<span class="t wh" style="left:1517.45px;top:969px;font-size:14px;line-height:14px;transform:scaleX(0.7736);">Buscar mi interno</span>
<div class="r" style="left:1705.2px;top:961px;width:128px;height:31px;background:#20a8d8;border-radius:4px"></div>
<span class="t wh" style="left:1716.55px;top:969px;font-size:14px;line-height:14px;transform:scaleX(0.7711);">Reestablecer pantalla</span>
<div class="r" style="left:1509.8px;top:1007px;width:100px;height:31px;background:#4dbd74;border-radius:4px"></div>
<span class="t wh" style="left:1521.5px;top:1015px;font-size:14px;line-height:14px;transform:scaleX(0.782);">Activar votacion</span>
<div class="r" style="left:1712.7px;top:1007px;width:113px;height:31px;background:#f86c6b;border-radius:4px"></div>
<span class="t wh" style="left:1724.21px;top:1015px;font-size:14px;line-height:14px;transform:scaleX(0.7851);">Desctivar votacion</span>
</body></html>
